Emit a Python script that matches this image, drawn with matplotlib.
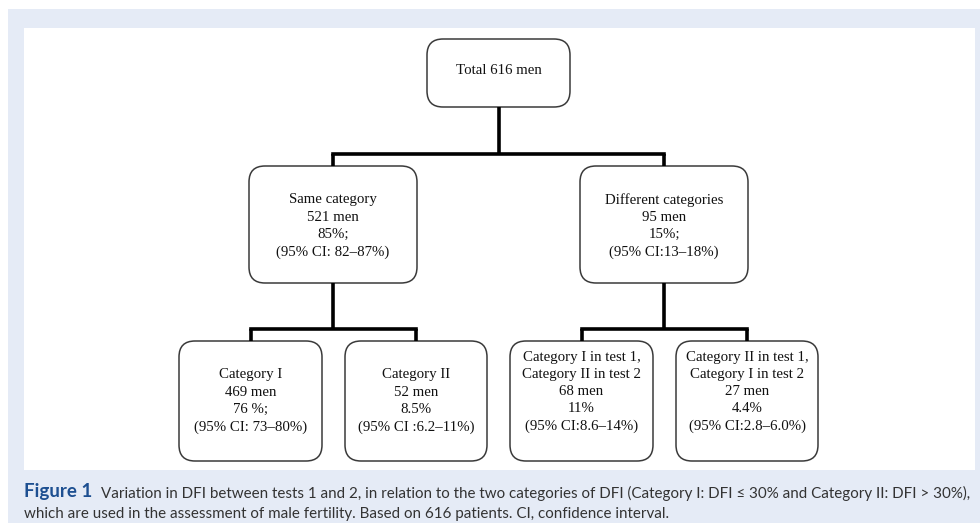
import matplotlib
matplotlib.use("Agg")
import matplotlib.pyplot as plt
from matplotlib.patches import FancyBboxPatch, Rectangle

# box texts, top level down
top_label = ["Total 616 men"]
mid_labels = [
    ["Same category", "521 men", "85%;", "(95% CI: 82\u201387%)"],
    ["Different categories", "95 men", "15%;", "(95% CI:13\u201318%)"],
]
bottom_labels = [
    ["Category I", "469 men", "76 %;", "(95% CI: 73\u201380%)"],
    ["Category II", "52 men", "8.5%", "(95% CI :6.2\u201311%)"],
    ["Category I in test 1,", "Category II in test 2", "68 men", "11%", "(95% CI:8.6\u201314%)"],
    ["Category II in test 1,", "Category I in test 2", "27 men", "4.4%", "(95% CI:2.8\u20136.0%)"],
]
caption_head = "Figure 1"
caption_line1 = ("Variation in DFI between tests 1 and 2, in relation to the two categories of DFI "
                 "(Category I: DFI \u2264 30% and Category II: DFI > 30%),")
caption_line2 = "which are used in the assessment of male fertility. Based on 616 patients. CI, confidence interval."

# layout in pixels (x from left, y from top)
top_box = (427, 39, 570, 107)
mid_boxes = [(249, 166, 417, 283), (580, 166, 748, 283)]
bottom_boxes = [(179, 341, 322, 461), (345, 341, 487, 461),
                (510, 341, 653, 461), (676, 341, 818, 461)]
bottom_text_y = [401, 401, 392, 392]

bg_blue = "#e5ebf6"
fig = plt.figure(figsize=(9.8, 5.3), dpi=100)
ax = fig.add_axes([0, 0, 1, 1])
ax.set_xlim(0, 980)
ax.set_ylim(530, 0)
ax.axis("off")

ax.add_patch(Rectangle((8, 9), 972, 514, facecolor=bg_blue, edgecolor="none"))
ax.add_patch(Rectangle((24, 28), 951, 442, facecolor="white", edgecolor="none"))

serif = "Liberation Serif"
fs = 10.7


def draw_box(b, lines, ty=None):
    x0, y0, x1, y1 = b
    ax.add_patch(FancyBboxPatch((x0, y0), x1 - x0, y1 - y0,
                                boxstyle="round,pad=0,rounding_size=16",
                                facecolor="white", edgecolor="#3a3a3a", linewidth=1.1))
    cy = (y0 + y1) / 2 if ty is None else ty
    ax.text((x0 + x1) / 2, cy, "\n".join(lines), ha="center", va="center",
            family=serif, fontsize=fs, linespacing=1.42, color="#111111")


def cx(b):
    return (b[0] + b[2]) / 2


def connect(parent, kids, ybar):
    lw = 2.6
    ax.plot([cx(parent), cx(parent)], [parent[3], ybar], color="black", lw=lw, solid_capstyle="butt")
    ax.plot([cx(kids[0]), cx(kids[-1])], [ybar, ybar], color="black", lw=lw, solid_capstyle="projecting")
    for k in kids:
        ax.plot([cx(k), cx(k)], [ybar, k[1]], color="black", lw=lw, solid_capstyle="butt")


connect(top_box, mid_boxes, 154)
connect(mid_boxes[0], bottom_boxes[:2], 329)
connect(mid_boxes[1], bottom_boxes[2:], 329)

draw_box(top_box, top_label, 71)
for b, lab in zip(mid_boxes, mid_labels):
    draw_box(b, lab, 226)
for b, lab, ty in zip(bottom_boxes, bottom_labels, bottom_text_y):
    draw_box(b, lab, ty)

# caption
cap_font = "Lato"
head = ax.text(24, 492, caption_head, ha="left", va="center", family=cap_font,
               fontsize=13.5, fontweight="bold", color="#1d4f91")
fig.canvas.draw()
ext = head.get_window_extent(fig.canvas.get_renderer())
x_after = ax.transData.inverted().transform((ext.x1, ext.y0))[0]
ax.text(x_after + 9, 493, caption_line1, ha="left", va="center", family=cap_font,
        fontsize=10.9, color="#333333")
ax.text(24, 514, caption_line2, ha="left", va="center", family=cap_font,
        fontsize=10.9, color="#333333")

fig.savefig("out.png", dpi=100, facecolor="white")
